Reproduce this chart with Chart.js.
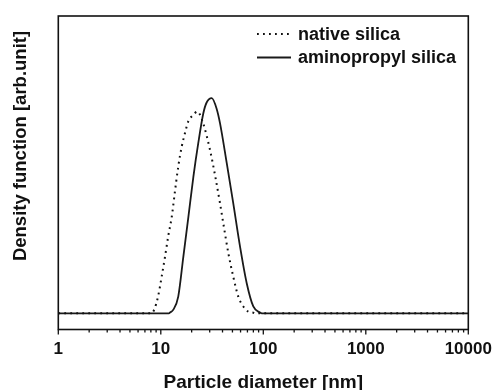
<!DOCTYPE html>
<html>
<head>
<meta charset="utf-8">
<script src="https://cdn.jsdelivr.net/npm/chart.js@4.4.1/dist/chart.umd.min.js"></script>
<style>
  html, body { margin: 0; padding: 0; background: #fff; }
  #wrap { width: 494px; height: 390px; }
</style>
</head>
<body>
<div id="wrap"><canvas id="myChart" width="494" height="390"></canvas></div>
<script>
// Datos (diametro en nm, densidad en unidades arbitrarias)
const nativeDiameter = [1, 8.1, 8.6, 9.4, 10.2, 11.0, 11.8, 12.8, 13.8, 14.8, 16.0, 17.2, 18.5, 20.7, 22.8, 24.0, 25.9, 30.2, 34.0, 37.8, 40.7, 45.6, 50.9, 57.0, 63.8, 71.4, 80.0, 84, 10000];
const nativeDensity  = [0, 0, 0.016, 0.078, 0.171, 0.264, 0.357, 0.45, 0.574, 0.682, 0.775, 0.837, 0.891, 0.922, 0.938, 0.925, 0.884, 0.76, 0.636, 0.512, 0.419, 0.28, 0.171, 0.078, 0.032, 0.008, 0.003, 0, 0];

const aminoDiameter = [1, 12.0, 12.3, 13.2, 14.8, 16.6, 18.6, 20.8, 23.2, 26.0, 28.0, 31.4, 35.1, 37.8, 44.0, 50.9, 59.3, 68.9, 79.9, 92.9, 97, 10000];
const aminoDensity  = [0, 0, 0.004, 0.016, 0.078, 0.264, 0.45, 0.636, 0.791, 0.93, 0.98, 1.0, 0.95, 0.884, 0.698, 0.512, 0.31, 0.14, 0.032, 0.004, 0, 0];

const seriesNames = ['native silica', 'aminopropyl silica'];
const majorTicks = [1, 10, 100, 1000, 10000];
const xTitle = 'Particle diameter [nm]';
const yTitle = 'Density function [arb.unit]';

const FONT = "'Liberation Sans', Arial, sans-serif";

function toPoints(xs, ys) {
    return xs.map((x, i) => ({ x: x, y: ys[i] }));
}

// Marco, marcas del eje, titulo Y y leyenda
const decorPlugin = {
    id: 'decor',
    afterDraw(chart) {
        const ctx = chart.ctx;
        const a = chart.chartArea;
        const xs = chart.scales.x;
        ctx.save();

        // marcas del eje x
        ctx.strokeStyle = '#111';
        ctx.lineWidth = 1.3;
        xs.ticks.forEach(t => {
            const px = xs.getPixelForValue(t.value);
            const major = majorTicks.includes(t.value);
            ctx.beginPath();
            ctx.moveTo(px, a.bottom);
            ctx.lineTo(px, a.bottom + (major ? 5 : 3));
            ctx.stroke();
        });

        // marco
        ctx.lineWidth = 1.6;
        ctx.strokeRect(a.left, a.top, a.right - a.left, a.bottom - a.top);

        // titulo del eje y
        ctx.fillStyle = '#111';
        ctx.font = 'bold 18.5px ' + FONT;
        ctx.textAlign = 'center';
        ctx.textBaseline = 'middle';
        ctx.translate(20.6, 146);
        ctx.rotate(-Math.PI / 2);
        ctx.fillText(yTitle, 0, 0);
        ctx.restore();

        // leyenda
        ctx.save();
        ctx.font = 'bold 18px ' + FONT;
        ctx.fillStyle = '#111';
        ctx.textAlign = 'left';
        ctx.textBaseline = 'alphabetic';
        const rows = [{ y: 34, base: 40 }, { y: 57.5, base: 63 }];
        chart.data.datasets.forEach((ds, i) => {
            ctx.beginPath();
            ctx.strokeStyle = ds.borderColor;
            ctx.lineWidth = ds.borderWidth;
            ctx.setLineDash(ds.borderDash || []);
            ctx.moveTo(257, rows[i].y);
            ctx.lineTo(291, rows[i].y);
            ctx.stroke();
            ctx.setLineDash([]);
            ctx.fillText(ds.label, 298, rows[i].base);
        });
        ctx.restore();
    }
};

const ctx = document.getElementById('myChart').getContext('2d');
const myChart = new Chart(ctx, {
    type: 'line',
    data: {
        datasets: [{
            label: seriesNames[0],
            data: toPoints(nativeDiameter, nativeDensity),
            borderColor: '#111',
            borderWidth: 2,
            borderDash: [1.8, 4.2],
            pointRadius: 0,
            fill: false,
            cubicInterpolationMode: 'monotone'
        }, {
            label: seriesNames[1],
            data: toPoints(aminoDiameter, aminoDensity),
            borderColor: '#1a1a1a',
            borderWidth: 1.8,
            pointRadius: 0,
            fill: false,
            cubicInterpolationMode: 'monotone'
        }]
    },
    options: {
        responsive: false,
        animation: false,
        events: [],
        layout: { padding: { left: 58.3, right: 25.7, top: 16, bottom: 0 } },
        plugins: {
            legend: { display: false },
            tooltip: { enabled: false }
        },
        scales: {
            x: {
                type: 'logarithmic',
                min: 1,
                max: 10000,
                afterBuildTicks(scale) {
                    const t = [];
                    for (let d = 1; d < 10000; d *= 10) {
                        for (let k = 1; k < 10; k++) t.push({ value: d * k });
                    }
                    t.push({ value: 10000 });
                    scale.ticks = t;
                },
                afterFit(scale) {
                    scale.height = 60.5;
                    scale.paddingLeft = 0;
                    scale.paddingRight = 0;
                },
                grid: { display: false, drawTicks: false },
                border: { display: false },
                ticks: {
                    autoSkip: false,
                    maxRotation: 0,
                    padding: 10,
                    color: '#111',
                    font: { family: FONT, size: 17, weight: 'bold' },
                    callback: function(value) {
                        return majorTicks.includes(value) ? String(value) : '';
                    }
                },
                title: {
                    display: true,
                    text: xTitle,
                    color: '#111',
                    padding: 0,
                    font: { family: FONT, size: 19, weight: 'bold', lineHeight: 0.8 }
                }
            },
            y: {
                display: false,
                min: -0.075,
                max: 1.382
            }
        }
    },
    plugins: [decorPlugin]
});
</script>
</body>
</html>
